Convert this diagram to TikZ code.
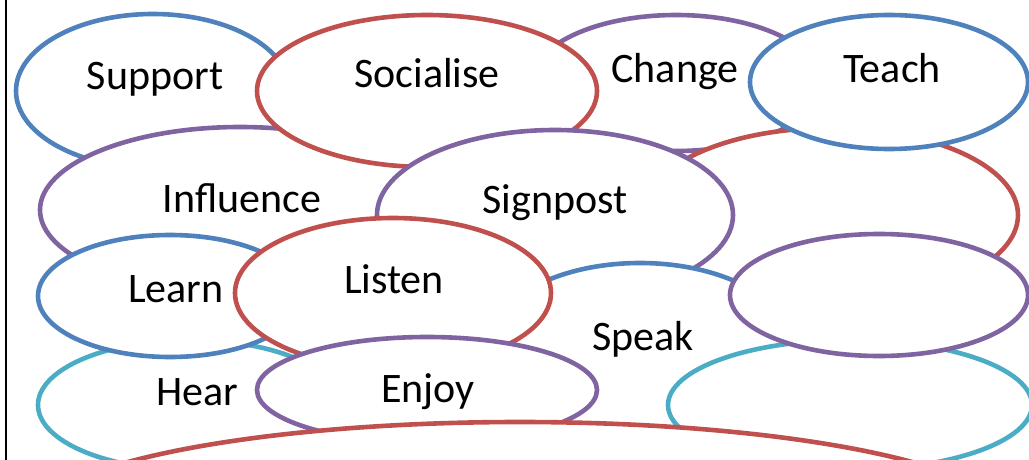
\documentclass[tikz,border=0pt]{standalone}
\usepackage{fontspec}
\setmainfont{Carlito}
\usetikzlibrary{shapes.geometric}
\definecolor{oblue}{HTML}{4F81BD}
\definecolor{ored}{HTML}{C0504D}
\definecolor{opurple}{HTML}{8064A2}
\definecolor{ocyan}{HTML}{4BACC6}
\tikzset{
  bubble/.style={ellipse, draw=#1, line width=4.6pt, fill=white, inner sep=0pt},
  word/.style={anchor=base, font=\fontsize{42}{50}\selectfont, inner sep=0pt}
}
\newcommand{\bub}[6]{\node[bubble=#1, minimum width=#4pt, minimum height=#5pt] (#6) at (#2,#3) {};}
\begin{document}
\begin{tikzpicture}[x=1pt,y=-1pt]
\useasboundingbox (0,0) rectangle (1029,460);
\clip (0,0) rectangle (1029,460);
\bub{oblue}{153}{91}{274}{154}{support}
\bub{opurple}{676}{83}{290}{136}{change}
\bub{opurple}{240}{210}{400}{166}{influence}
\bub{ored}{427}{91}{340}{152}{socialise}
\bub{ored}{830}{215}{376}{174}{redright}
\bub{oblue}{889}{82}{278}{134}{teach}
\bub{opurple}{555}{215}{356}{170}{signpost}
\bub{ocyan}{190}{405}{304}{130}{hear}
\bub{oblue}{170}{296}{264}{122}{learn}
\bub{oblue}{640}{350}{310}{174}{speak}
\bub{ored}{393}{293}{316}{150}{listen}
\bub{ocyan}{850}{405}{364}{130}{cyanright}
\bub{opurple}{879}{295}{298}{122}{purpleright}
\bub{opurple}{427}{390}{340}{106}{enjoy}
\bub{ored}{520}{522}{980}{200}{bottomred}
\node[word] (tsupport) at (155,89) {Support};
\node[word] (tsocialise) at (427,88) {Socialise};
\node[word] (tchange) at (675,83) {Change};
\node[word] (tteach) at (892,83) {Teach};
\node[word] (tinfluence) at (242,212) {Influence};
\node[word] (tsignpost) at (555,213) {Signpost};
\node[word] (tlearn) at (176,302) {Learn};
\node[word] (tlisten) at (394,293) {Listen};
\node[word] (tspeak) at (643,350) {Speak};
\node[word] (thear) at (197,405) {Hear};
\node[word] (tenjoy) at (428,402) {Enjoy};
\coordinate (bt) at (6,0);
\coordinate (bb) at (6,460);
\draw[line width=2.5pt, black] (bt) -- (bb);
\end{tikzpicture}
\end{document}
